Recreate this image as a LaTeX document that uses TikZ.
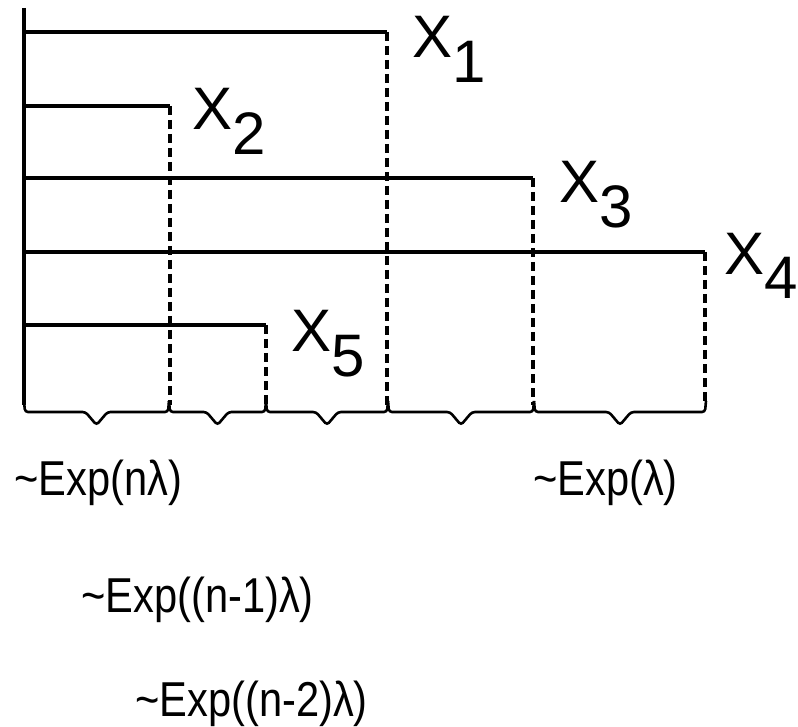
\documentclass[tikz,border=0pt]{standalone}
\usepackage{fontspec}
\setmainfont{Liberation Sans}
\begin{document}
\begin{tikzpicture}[x=1pt,y=-1pt,
  solidline/.style={line width=3.1pt},
  dashline/.style={line width=3.1pt,dash pattern=on 9pt off 5pt},
  bracepath/.style={line width=2.6pt,rounded corners=3pt},
  xlabel/.style={anchor=base west,inner sep=0pt,font=\fontsize{60}{70}\selectfont},
  explabel/.style={anchor=base west,inner sep=0pt,font=\fontsize{49}{56}\selectfont}]
\useasboundingbox (0,0) rectangle (798,727);
% axis
\coordinate (top) at (24,8);
\coordinate (bot) at (24,405);
\draw[solidline] (top) -- (bot);
% lines
\foreach \n/\y/\e in {1/32/387, 2/106/170, 3/178/533, 4/252/705, 5/325/266}{
  \coordinate (s\n) at (24,\y);
  \coordinate (e\n) at (\e,\y);
  \coordinate (f\n) at (\e,405);
  \draw[solidline] (s\n) -- (e\n);
  \draw[dashline] (e\n) -- (f\n);
}
% labels
\node[xlabel] (L1) at (412,58) {X\raisebox{-25pt}{1}};
\node[xlabel] (L2) at (192,130) {X\raisebox{-25pt}{2}};
\node[xlabel] (L3) at (559,203) {X\raisebox{-25pt}{3}};
\node[xlabel] (L4) at (724,275) {X\raisebox{-24pt}{4}};
\node[xlabel] (L5) at (291,352) {X\raisebox{-25pt}{5}};
% braces
\foreach \a/\b in {24/169, 169/266, 266/388, 388/534, 534/706}{
  \pgfmathsetmacro{\m}{(\a+\b)/2}
  \draw[bracepath] (\a,401) -- (\a+1,412) -- (\m-11,412) -- (\m,425) -- (\m+11,412) -- (\b-1,412) -- (\b,401);
}
% distribution labels
\node[explabel] (D1) at (14,495) {\scalebox{0.85}[1]{\textasciitilde Exp(nλ)}};
\node[explabel] (D2) at (81,612) {\scalebox{0.85}[1]{\textasciitilde Exp((n-1)λ)}};
\node[explabel] (D3) at (135,716) {\scalebox{0.85}[1]{\textasciitilde Exp((n-2)λ)}};
\node[explabel] (D4) at (533,495) {\scalebox{0.85}[1]{\textasciitilde Exp(λ)}};
\end{tikzpicture}
\end{document}
